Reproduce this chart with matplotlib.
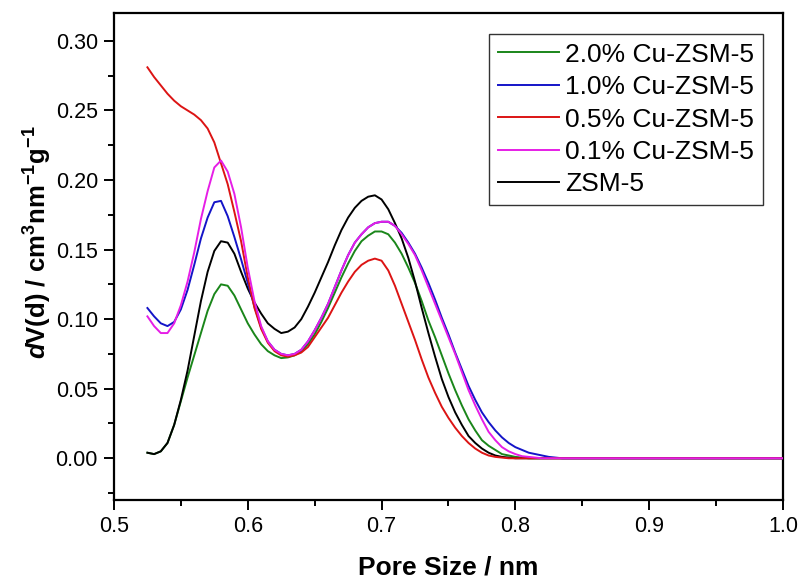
import matplotlib
matplotlib.use("Agg")
import matplotlib.pyplot as plt
from matplotlib.ticker import MultipleLocator, FormatStrFormatter

plt.rcParams['font.family'] = ['Liberation Sans', 'DejaVu Sans']
plt.rcParams['mathtext.fontset'] = 'custom'
plt.rcParams['mathtext.rm'] = 'Liberation Sans:bold'
plt.rcParams['mathtext.bf'] = 'Liberation Sans:bold'
plt.rcParams['mathtext.it'] = 'Liberation Sans:italic:bold'

# pore size grid (nm)
pore_size = [0.525, 0.530, 0.535, 0.540, 0.545, 0.550, 0.555, 0.560, 0.565, 0.570,
             0.575, 0.580, 0.585, 0.590, 0.595, 0.600, 0.605, 0.610, 0.615, 0.620,
             0.625, 0.630, 0.635, 0.640, 0.645, 0.650, 0.655, 0.660, 0.665, 0.670,
             0.675, 0.680, 0.685, 0.690, 0.695, 0.700, 0.705, 0.710, 0.715, 0.720,
             0.725, 0.730, 0.735, 0.740, 0.745, 0.750, 0.755, 0.760, 0.765, 0.770,
             0.775, 0.780, 0.785, 0.790, 0.795, 0.800, 0.805, 0.810, 0.815, 0.820,
             0.825, 0.830, 0.835, 0.840, 1.000]

cu_20 = [0.004, 0.003, 0.005, 0.011, 0.024, 0.041, 0.058, 0.074, 0.090, 0.106,
         0.118, 0.125, 0.124, 0.117, 0.107, 0.097, 0.089, 0.082, 0.077, 0.074,
         0.072, 0.0725, 0.074, 0.077, 0.082, 0.089, 0.098, 0.108, 0.119, 0.130,
         0.140, 0.149, 0.156, 0.160, 0.163, 0.163, 0.161, 0.155, 0.147, 0.137,
         0.126, 0.113, 0.099, 0.087, 0.074, 0.061, 0.049, 0.038, 0.028, 0.020,
         0.013, 0.009, 0.006, 0.003, 0.002, 0.001, 0.0005, 0, 0, 0,
         0, 0, 0, 0, 0]

cu_10 = [0.108, 0.102, 0.097, 0.095, 0.098, 0.107, 0.121, 0.139, 0.158, 0.173,
         0.184, 0.185, 0.174, 0.159, 0.143, 0.126, 0.109, 0.094, 0.084, 0.078,
         0.075, 0.074, 0.075, 0.078, 0.084, 0.092, 0.101, 0.111, 0.123, 0.135,
         0.146, 0.155, 0.161, 0.166, 0.169, 0.170, 0.170, 0.167, 0.162, 0.155,
         0.147, 0.137, 0.126, 0.114, 0.101, 0.089, 0.076, 0.064, 0.052, 0.042,
         0.033, 0.026, 0.020, 0.015, 0.011, 0.008, 0.006, 0.004, 0.003, 0.002,
         0.001, 0.0005, 0, 0, 0]

cu_05 = [0.281, 0.274, 0.268, 0.262, 0.257, 0.253, 0.250, 0.247, 0.243, 0.237,
         0.227, 0.212, 0.197, 0.177, 0.156, 0.130, 0.108, 0.093, 0.083, 0.077,
         0.074, 0.073, 0.074, 0.076, 0.080, 0.087, 0.094, 0.101, 0.110, 0.119,
         0.127, 0.134, 0.139, 0.142, 0.1435, 0.142, 0.135, 0.124, 0.111, 0.098,
         0.085, 0.071, 0.058, 0.047, 0.037, 0.029, 0.022, 0.016, 0.011, 0.007,
         0.004, 0.002, 0.001, 0.0005, 0, 0, 0, 0, 0, 0,
         0, 0, 0, 0, 0]

cu_01 = [0.102, 0.095, 0.090, 0.090, 0.097, 0.110, 0.127, 0.148, 0.172, 0.192,
         0.209, 0.214, 0.206, 0.190, 0.166, 0.137, 0.113, 0.095, 0.084, 0.078,
         0.075, 0.074, 0.075, 0.078, 0.084, 0.092, 0.101, 0.111, 0.123, 0.135,
         0.146, 0.155, 0.161, 0.166, 0.169, 0.170, 0.170, 0.167, 0.161, 0.154,
         0.146, 0.135, 0.123, 0.111, 0.099, 0.087, 0.075, 0.062, 0.049, 0.038,
         0.028, 0.019, 0.013, 0.008, 0.005, 0.003, 0.0015, 0.001, 0.0005, 0,
         0, 0, 0, 0, 0]

zsm5 = [0.004, 0.003, 0.005, 0.011, 0.024, 0.042, 0.063, 0.088, 0.113, 0.134,
        0.149, 0.156, 0.155, 0.147, 0.134, 0.122, 0.112, 0.104, 0.097, 0.093,
        0.090, 0.091, 0.094, 0.100, 0.109, 0.119, 0.130, 0.141, 0.153, 0.164,
        0.173, 0.180, 0.185, 0.188, 0.189, 0.186, 0.179, 0.169, 0.158, 0.144,
        0.127, 0.108, 0.090, 0.073, 0.057, 0.044, 0.033, 0.024, 0.016, 0.011,
        0.007, 0.004, 0.002, 0.001, 0.0005, 0, 0, 0, 0, 0,
        0, 0, 0, 0, 0]

labels = ['2.0% Cu-ZSM-5', '1.0% Cu-ZSM-5', '0.5% Cu-ZSM-5', '0.1% Cu-ZSM-5', 'ZSM-5']
colors = ['#1a861a', '#1414c8', '#dc1414', '#e61ee6', '#000000']
series = [cu_20, cu_10, cu_05, cu_01, zsm5]
zorders = [2, 4, 5, 6, 3]

fig = plt.figure(figsize=(8.02, 5.79), dpi=100)
ax = fig.add_axes([0.1421, 0.1364, 0.8342, 0.8411])

handles = []
for y, lab, c, z in zip(series, labels, colors, zorders):
    h, = ax.plot(pore_size, y, color=c, lw=1.4, label=lab, zorder=z,
                 solid_joinstyle='round')
    handles.append(h)

ax.set_xlim(0.5, 1.0)
ax.set_ylim(-0.03, 0.32)
ax.xaxis.set_major_locator(MultipleLocator(0.1))
ax.xaxis.set_minor_locator(MultipleLocator(0.05))
ax.yaxis.set_major_locator(MultipleLocator(0.05))
ax.yaxis.set_minor_locator(MultipleLocator(0.025))
ax.xaxis.set_major_formatter(FormatStrFormatter('%.1f'))
ax.yaxis.set_major_formatter(FormatStrFormatter('%.2f'))

ax.tick_params(which='both', direction='out', top=False, right=False, width=1.4)
ax.tick_params(which='major', length=7.5, labelsize=15.5, pad=4)
ax.tick_params(which='minor', length=4)
for s in ax.spines.values():
    s.set_linewidth(1.6)

ax.set_xlabel('Pore Size / nm', fontsize=19, fontweight='bold', labelpad=13)
ax.set_ylabel(r'$\mathit{d}$V(d) / cm$^{3}$nm$^{-1}$g$^{-1}$', fontsize=18.5,
              fontweight='bold')
ax.yaxis.set_label_coords(-0.09, 0.53)

leg = ax.legend(handles=handles, loc='upper right', bbox_to_anchor=(0.970, 0.957),
                borderaxespad=0, fontsize=19, handlelength=2.3, handletextpad=0.25,
                labelspacing=0.32, borderpad=0.33, fancybox=False, framealpha=1)
leg.get_frame().set_edgecolor('#333333')
leg.get_frame().set_linewidth(1.0)

fig.savefig('out.png', dpi=100)
